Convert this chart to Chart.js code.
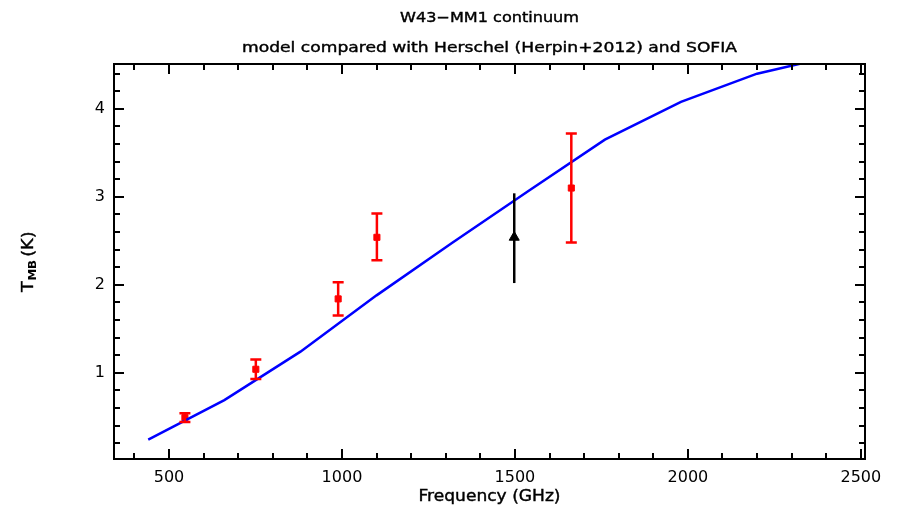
<!DOCTYPE html>
<html>
<head>
<meta charset="utf-8">
<script src="https://cdn.jsdelivr.net/npm/chart.js@4.4.1/dist/chart.umd.min.js"></script>
<style>
  html, body { margin: 0; padding: 0; background: #fff; }
  #wrap { width: 897px; height: 506px; }
</style>
</head>
<body>
<div id="wrap"><canvas id="tmb"></canvas></div>
<script>
// model curve
const freqModel = [440, 660, 880, 1100, 1320, 1540, 1760, 1980, 2200, 2420];
const tmbModel = [0.24, 0.69, 1.24, 1.88, 2.48, 3.07, 3.65, 4.08, 4.40, 4.60];

// Herschel HIFI points with error ranges
const freqHerschel = [546, 751, 989, 1101, 1663];
const tmbHerschel = [0.49, 1.04, 1.84, 2.54, 3.10];
const lowHerschel = [0.44, 0.93, 1.65, 2.28, 2.48];
const highHerschel = [0.54, 1.15, 2.03, 2.81, 3.72];

// SOFIA point
const freqSofia = [1498];
const tmbSofia = [2.54];
const lowSofia = [2.02];
const highSofia = [3.04];

const xTicks = [500, 1000, 1500, 2000, 2500];
const yTicks = [1, 2, 3, 4];

const titleLines = ["W43\u2212MM1 continuum", "model compared with Herschel (Herpin+2012) and SOFIA"];
const xTitle = "Frequency (GHz)";

function pairs(xs, ys) {
  return xs.map((x, i) => ({ x: x, y: ys[i] }));
}

// draws text stretched to a given width
function wideText(ctx, text, cx, y, size, width) {
  ctx.save();
  ctx.font = size + "px 'DejaVu Sans'";
  const w = ctx.measureText(text).width;
  ctx.translate(cx, y);
  ctx.scale(width / w, 1);
  ctx.textAlign = "center";
  ctx.textBaseline = "alphabetic";
  ctx.fillStyle = "#000";
  ctx.strokeStyle = "#000";
  ctx.lineWidth = 0.4;
  ctx.fillText(text, 0, 0);
  ctx.strokeText(text, 0, 0);
  ctx.restore();
}

const framePlugin = {
  id: "frame",
  afterDatasetsDraw(chart) {
    const ctx = chart.ctx;
    const xs = chart.scales.x, ys = chart.scales.y;
    const area = chart.chartArea;

    // error bars
    ctx.save();
    ctx.beginPath();
    ctx.rect(area.left, area.top, area.right - area.left, area.bottom - area.top);
    ctx.clip();
    ctx.lineWidth = 2.5;
    ctx.strokeStyle = "#ff0000";
    freqHerschel.forEach((f, i) => {
      const px = xs.getPixelForValue(f);
      const y0 = ys.getPixelForValue(lowHerschel[i]);
      const y1 = ys.getPixelForValue(highHerschel[i]);
      ctx.beginPath();
      ctx.moveTo(px, y0); ctx.lineTo(px, y1);
      ctx.moveTo(px - 5.5, y0); ctx.lineTo(px + 5.5, y0);
      ctx.moveTo(px - 5.5, y1); ctx.lineTo(px + 5.5, y1);
      ctx.stroke();
    });
    ctx.strokeStyle = "#000";
    freqSofia.forEach((f, i) => {
      const px = xs.getPixelForValue(f);
      ctx.beginPath();
      ctx.moveTo(px, ys.getPixelForValue(lowSofia[i]));
      ctx.lineTo(px, ys.getPixelForValue(highSofia[i]));
      ctx.stroke();
    });
    ctx.restore();

    // box with inward ticks on all four sides
    ctx.save();
    ctx.strokeStyle = "#000";
    ctx.lineWidth = 2;
    ctx.strokeRect(area.left, area.top, area.right - area.left, area.bottom - area.top);
    ctx.beginPath();
    for (let v = 400; v <= 2500; v += 100) {
      const px = Math.round(xs.getPixelForValue(v));
      const len = v % 500 === 0 ? 10 : 6;
      ctx.moveTo(px, area.bottom); ctx.lineTo(px, area.bottom - len);
      ctx.moveTo(px, area.top); ctx.lineTo(px, area.top + len);
    }
    for (let k = 1; k <= 22; k++) {
      const v = k / 5;
      const py = Math.round(ys.getPixelForValue(v));
      const len = k % 5 === 0 ? 10 : 6;
      ctx.moveTo(area.left, py); ctx.lineTo(area.left + len, py);
      ctx.moveTo(area.right, py); ctx.lineTo(area.right - len, py);
    }
    ctx.stroke();
    ctx.restore();

    // titles
    const cx = (area.left + area.right) / 2;
    wideText(ctx, titleLines[0], cx, 22, 14, 179);
    wideText(ctx, titleLines[1], cx, 52, 14, 495);
    wideText(ctx, xTitle, cx, 501, 15, 142);

    // y axis title with subscript
    ctx.save();
    ctx.translate(33, 292);
    ctx.rotate(-Math.PI / 2);
    ctx.fillStyle = "#000";
    ctx.strokeStyle = "#000";
    ctx.lineWidth = 0.4;
    ctx.textBaseline = "alphabetic";
    ctx.font = "15px 'DejaVu Sans'";
    const wT = ctx.measureText("T").width;
    const wK = ctx.measureText(" (K)").width;
    ctx.font = "10px 'DejaVu Sans'";
    const wMB = ctx.measureText("MB").width;
    ctx.scale(60 / (wT + wMB + wK), 1);
    ctx.font = "15px 'DejaVu Sans'";
    ctx.fillText("T", 0, 0);
    ctx.strokeText("T", 0, 0);
    ctx.font = "bold 10px 'DejaVu Sans'";
    ctx.fillText("MB", wT + 0.5, 3);
    ctx.font = "15px 'DejaVu Sans'";
    ctx.fillText(" (K)", wT + wMB + 0.5, 0);
    ctx.strokeText(" (K)", wT + wMB + 0.5, 0);
    ctx.restore();
  }
};

Chart.defaults.font.family = "'DejaVu Sans'";
Chart.defaults.color = "#000";

new Chart(document.getElementById("tmb").getContext("2d"), {
  type: "scatter",
  data: {
    datasets: [
      {
        type: "line",
        label: "model",
        data: pairs(freqModel, tmbModel),
        borderColor: "#0000ff",
        borderWidth: 2.5,
        pointRadius: 0,
        tension: 0,
        fill: false,
      },
      {
        label: "Herschel",
        data: pairs(freqHerschel, tmbHerschel),
        pointStyle: "rect",
        pointRadius: 4.3,
        backgroundColor: "#ff0000",
        borderColor: "#ff0000",
        borderWidth: 1,
      },
      {
        label: "SOFIA",
        data: pairs(freqSofia, tmbSofia),
        pointStyle: "triangle",
        pointRadius: 5.8,
        backgroundColor: "#000",
        borderColor: "#000",
        borderWidth: 1,
      },
    ],
  },
  options: {
    responsive: true,
    maintainAspectRatio: false,
    animation: false,
    events: [],
    layout: { padding: { left: 0, right: 32, top: 64, bottom: 0 } },
    plugins: {
      legend: { display: false },
      title: { display: false },
      tooltip: { enabled: false },
    },
    scales: {
      x: {
        type: "linear",
        min: 341,
        max: 2512,
        grid: { display: false, drawTicks: false },
        border: { display: false },
        ticks: { font: { size: 16 }, padding: 9, maxRotation: 0, callback: v => String(v) },
        afterBuildTicks(scale) { scale.ticks = xTicks.map(v => ({ value: v })); },
        afterFit(scale) { scale.height = 47; },
      },
      y: {
        type: "linear",
        min: 0.02,
        max: 4.51,
        grid: { display: false, drawTicks: false },
        border: { display: false },
        ticks: { font: { size: 16 }, padding: 9, callback: v => String(v) },
        afterBuildTicks(scale) { scale.ticks = yTicks.map(v => ({ value: v })); },
        afterFit(scale) { scale.width = 114; },
      },
    },
  },
  plugins: [framePlugin],
});
</script>
</body>
</html>
